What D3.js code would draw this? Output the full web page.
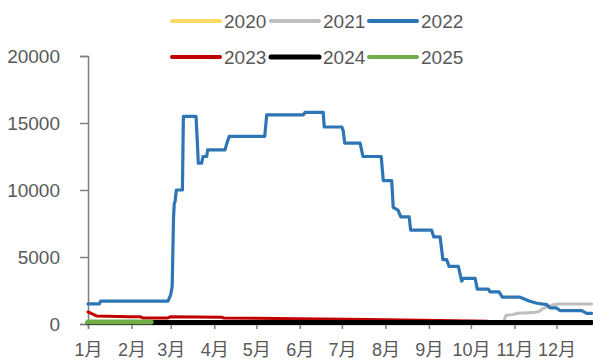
<!DOCTYPE html>
<html><head><meta charset="utf-8">
<script src="https://cdn.jsdelivr.net/npm/d3@7"></script>
<style>
html,body{margin:0;padding:0;background:#fff;}
svg{display:block;}
text{font-family:"Liberation Sans","Noto Sans CJK SC",sans-serif;fill:#595959;}
</style></head>
<body><svg id="c" width="593" height="360"></svg>
<script>
const monthLabels = ["1月","2月","3月","4月","5月","6月","7月","8月","9月","10月","11月","12月"];
const monthStartDays = [0,31,59,90,120,151,181,212,243,273,304,334];
const yTicks = [0,5000,10000,15000,20000];
const seriesNames = ["2020","2021","2022","2023","2024","2025"];
const seriesColors = ["#FFD966","#BFBFBF","#2E75B6","#C00000","#000000","#70AD47"];

// [day of year, value]
const s2020 = [[0,30],[359,30]];
const s2021 = [[0,60],[279,60],[283,120],[296,130],[298,650],[303,700],[306,800],[318,850],[322,950],[324,1150],[328,1300],[332,1450],[336,1500],[359,1500]];
const s2022 = [[0,1500],[8,1500],[9,1700],[57,1700],[59,2200],[60,2800],[61,8000],[61.5,9000],[62,9100],[63,10000],[67.3,10000],[68,15500],[77,15500],[78,13500],[78.6,12000],[81,12000],[82,12500],[84.6,12500],[85.3,13000],[97.7,13000],[99,13500],[100.7,14000],[126,14000],[127.4,15600],[153.5,15600],[154.7,15800],[167.7,15800],[168.4,14700],[181,14700],[182,14400],[183,13500],[194,13500],[196,12500],[209,12500],[210.5,10700],[216.5,10700],[217.6,8700],[221,8500],[223,8000],[229,8000],[230,7000],[245,7000],[246.5,6500],[251,6500],[253,4800],[255.7,4800],[257.4,4300],[264,4300],[266.4,3200],[267.6,3400],[276,3400],[277.5,2600],[285.4,2600],[286.6,2400],[293,2400],[295.4,2000],[308,2000],[315,1700],[320,1550],[327,1450],[329.4,1200],[334,1200],[336.5,1000],[352,1000],[355.5,800],[359,800]];
const s2023 = [[0,900],[3,750],[6,600],[30,550],[37,550],[39,450],[57,450],[59,550],[95,500],[97,450],[150,400],[200,330],[250,260],[285,200]];
const s2024 = [[0,120],[359,120]];
const s2025 = [[0,150],[45,150]];
const seriesData = [s2020,s2021,s2022,s2023,s2024,s2025];
const seriesWidths = [3,3,3.2,3,5,5];

const svg = d3.select("#c");
const x = d3.scaleLinear().domain([0,365]).range([88,600]);
const y = d3.scaleLinear().domain([0,20000]).range([324,56]);
const axisColor = "#808080";

// Y axis
const gy = svg.append("g").attr("transform","translate(88,0)")
  .call(d3.axisLeft(y).tickValues(yTicks).tickSize(8).tickPadding(20).tickFormat(d3.format("d")));
gy.select(".domain").attr("stroke",axisColor).attr("stroke-width",1.5);
gy.selectAll(".tick line").attr("stroke",axisColor).attr("stroke-width",1.5);
gy.selectAll(".tick text").attr("font-size",19).attr("fill","#595959")
  .attr("font-family","\"Liberation Sans\",sans-serif");

// X axis
const gx = svg.append("g").attr("transform","translate(0,324)")
  .call(d3.axisBottom(x).tickValues(monthStartDays).tickSize(5).tickPadding(14)
    .tickFormat((d,i)=>monthLabels[i]));
gx.select(".domain").attr("stroke",axisColor).attr("stroke-width",1.5);
gx.selectAll(".tick line").attr("stroke",axisColor).attr("stroke-width",1.5);
gx.selectAll(".tick text").attr("font-size",18).attr("fill","#595959")
  .attr("font-family","\"Liberation Sans\",\"Noto Sans CJK SC\",sans-serif");

// Lines
const line = d3.line().x(d=>x(d[0])).y(d=>y(d[1]));
seriesData.forEach((data,i)=>{
  svg.append("path").datum(data).attr("d",line)
    .attr("fill","none").attr("stroke",seriesColors[i])
    .attr("stroke-width",seriesWidths[i])
    .attr("stroke-linejoin","round").attr("stroke-linecap","round");
});

// Legend
const legCols = [172,271,369];
const legRows = [21,57];
seriesNames.forEach((name,i)=>{
  const lx = legCols[i%3], ly = legRows[Math.floor(i/3)];
  svg.append("line").attr("x1",lx).attr("x2",lx+48).attr("y1",ly).attr("y2",ly)
    .attr("stroke",seriesColors[i]).attr("stroke-width",i===4?5:4).attr("stroke-linecap","round");
  svg.append("text").attr("x",lx+52).attr("y",ly).attr("dy","0.35em")
    .attr("font-size",19).text(name);
});
</script></body></html>
